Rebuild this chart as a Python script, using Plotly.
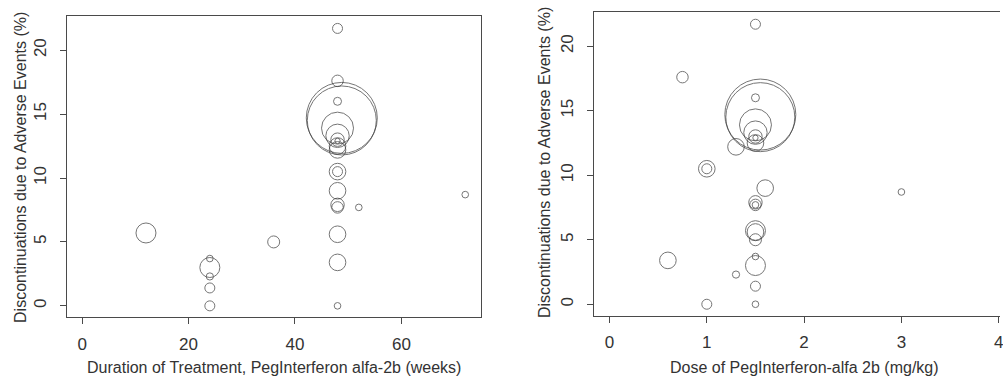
import plotly.graph_objects as go

# Study-level data (one entry per study arm)
weeks = [48, 48, 48, 48.8, 48.8, 48, 48, 48, 48, 48, 48, 48, 48, 48,
         48, 48, 52, 48, 48, 48, 72, 12, 24, 24, 24, 24, 24, 36]
dose = [1.5, 0.75, 1.5, 1.55, 1.55, 1.5, 1.5, 1.5, 1.5, 1.5, 1.3, 1.0, 1.0, 1.6,
        1.5, 1.5, 1.5, 1.5, 0.6, 1.5, 3.0, 1.5, 1.5, 1.5, 1.3, 1.5, 1.0, 1.5]
pct_ae = [21.7, 17.6, 16.0, 14.7, 14.5, 13.9, 13.3, 13.0, 12.9, 12.5, 12.2, 10.5, 10.5, 9.0,
          7.9, 7.7, 7.7, 5.6, 3.4, 0.0, 8.7, 5.7, 3.0, 3.7, 2.3, 1.4, 0.0, 5.0]
n_patients = [25, 33, 16, 1260, 1190, 256, 137, 45, 7, 69, 69, 69, 25, 69,
              45, 33, 11, 69, 69, 11, 11, 100, 100, 11, 13, 25, 25, 36]

left_xticks = [0, 20, 40, 60]
right_xticks = [0, 1, 2, 3, 4]
yticks = [0, 5, 10, 15, 20]

W, H = 1003, 379
def px_x(p): return p / W
def px_y(p): return (H - p) / H

line_col = "#4a4a4a"
text_col = "#333333"
font_fam = "Liberation Sans, Arial, sans-serif"

marker = dict(size=n_patients, sizemode="area", sizeref=0.5,
              color="rgba(0,0,0,0)", line=dict(color="#3c3c3c", width=1))

fig = go.Figure()
fig.add_trace(go.Scatter(x=weeks, y=pct_ae, mode="markers", marker=marker,
                         xaxis="x", yaxis="y", showlegend=False, hoverinfo="x+y"))
fig.add_trace(go.Scatter(x=dose, y=pct_ae, mode="markers", marker=marker,
                         xaxis="x2", yaxis="y2", showlegend=False, hoverinfo="x+y"))

tickfont = dict(family=font_fam, size=17, color=text_col)
common = dict(showgrid=False, zeroline=False, showline=True, linecolor=line_col,
              linewidth=1.3, ticks="outside", ticklen=6, tickwidth=1,
              tickcolor=line_col, tickfont=tickfont, ticklabeloverflow="allow")

fig.update_layout(
    width=W, height=H, margin=dict(l=0, r=0, t=0, b=0),
    paper_bgcolor="white", plot_bgcolor="white",
    xaxis=dict(domain=[px_x(67), px_x(482)], range=[-2.88, 74.88],
               tickvals=left_xticks, anchor="y", mirror=True,
               ticklabelstandoff=5, **common),
    yaxis=dict(domain=[px_y(317), px_y(16)], range=[-0.872, 22.672],
               tickvals=yticks, anchor="x", mirror=True, tickangle=-90,
               ticklabelstandoff=7, **common),
    xaxis2=dict(domain=[px_x(595.7), 1.0], range=[-0.16, 4.013],
                tickvals=right_xticks, anchor="y2", mirror=True,
                ticklabelstandoff=5, **common),
    yaxis2=dict(domain=[px_y(315.5), px_y(11.7)], range=[-0.872, 22.672],
                tickvals=yticks, anchor="x2", mirror=False, tickangle=-90,
                ticklabelstandoff=7, **common),
)

title_font = dict(family=font_fam, size=16, color=text_col)
fig.add_annotation(text="Duration of Treatment, PegInterferon alfa-2b (weeks)",
                   xref="paper", yref="paper", x=px_x(275), y=px_y(367),
                   showarrow=False, font=title_font, xanchor="center", yanchor="middle")
fig.add_annotation(text="Dose of PegInterferon-alfa 2b (mg/kg)",
                   xref="paper", yref="paper", x=px_x(806.5), y=px_y(367),
                   showarrow=False, font=title_font, xanchor="center", yanchor="middle")
fig.add_annotation(text="Discontinuations due to Adverse Events (%)",
                   xref="paper", yref="paper", x=px_x(20), y=px_y(167),
                   showarrow=False, font=title_font, textangle=-90,
                   xanchor="center", yanchor="middle")
fig.add_annotation(text="Discontinuations due to Adverse Events (%)",
                   xref="paper", yref="paper", x=px_x(546.7), y=px_y(163),
                   showarrow=False, font=title_font, textangle=-90,
                   xanchor="center", yanchor="middle")

fig.write_html("out.html", config={"displayModeBar": False},
               post_script="document.body.style.margin='0px';")
